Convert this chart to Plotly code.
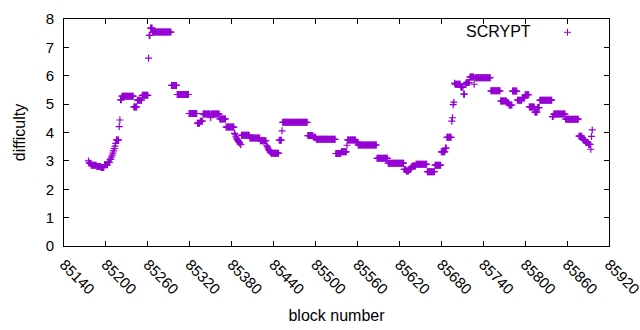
import plotly.graph_objects as go

# Runs of constant difficulty: first block, last block, value
run_first = [85175, 85176, 85179, 85187, 85193, 85198, 85203, 85206, 85208, 85209,
             85210, 85211, 85212, 85213, 85214, 85215, 85219, 85220, 85221, 85223,
             85240, 85245, 85252, 85261, 85262, 85264, 85267, 85294, 85302, 85319,
             85331, 85335, 85339, 85350, 85351, 85363, 85372, 85384, 85385, 85386,
             85387, 85388, 85389, 85390, 85391, 85392, 85393, 85394, 85406, 85421,
             85430, 85431, 85432, 85433, 85434, 85435, 85436, 85437, 85448, 85452,
             85453, 85489, 85497, 85501, 85529, 85537, 85545, 85546, 85558, 85561,
             85588, 85604, 85627, 85630, 85634, 85637, 85639, 85644, 85660, 85671,
             85680, 85686, 85688, 85695, 85696, 85697, 85698, 85699, 85700, 85708,
             85712, 85714, 85716, 85721, 85727, 85728, 85751, 85765, 85774, 85777,
             85782, 85789, 85796, 85800, 85806, 85814, 85818, 85821, 85839, 85841,
             85858, 85877, 85882, 85883, 85884, 85887, 85891, 85894, 85895, 85896]
run_last = [85175, 85178, 85186, 85192, 85197, 85202, 85205, 85207, 85208, 85209,
            85210, 85211, 85212, 85213, 85214, 85218, 85219, 85220, 85222, 85239,
            85244, 85251, 85260, 85261, 85263, 85266, 85293, 85301, 85318, 85330,
            85334, 85338, 85349, 85350, 85362, 85371, 85383, 85384, 85385, 85386,
            85387, 85388, 85389, 85390, 85391, 85392, 85393, 85405, 85420, 85429,
            85430, 85431, 85432, 85433, 85434, 85435, 85436, 85447, 85451, 85452,
            85488, 85496, 85500, 85528, 85536, 85544, 85545, 85557, 85560, 85587,
            85603, 85626, 85629, 85633, 85636, 85638, 85643, 85659, 85670, 85679,
            85685, 85687, 85694, 85695, 85696, 85697, 85698, 85699, 85707, 85711,
            85713, 85715, 85720, 85726, 85727, 85750, 85764, 85773, 85776, 85781,
            85788, 85795, 85799, 85805, 85813, 85817, 85820, 85838, 85840, 85857,
            85876, 85881, 85882, 85883, 85886, 85890, 85893, 85894, 85895, 85896]
run_value = [3.00, 2.92, 2.85, 2.80, 2.77, 2.86, 2.95, 3.05, 3.13, 3.20,
             3.27, 3.35, 3.43, 3.52, 3.62, 3.74, 4.21, 4.44, 5.15, 5.28,
             4.90, 5.14, 5.31, 6.62, 7.42, 7.68, 7.54, 5.66, 5.34, 4.67,
             4.33, 4.40, 4.65, 4.52, 4.65, 4.48, 4.19, 3.97, 3.92, 3.85,
             3.80, 3.75, 3.72, 3.68, 3.64, 3.60, 3.57, 3.90, 3.81, 3.71,
             3.55, 3.50, 3.45, 3.40, 3.36, 3.32, 3.29, 3.27, 3.73, 4.06,
             4.36, 3.89, 3.83, 3.76, 3.26, 3.32, 3.55, 3.74, 3.66, 3.56,
             3.09, 2.92, 2.70, 2.64, 2.70, 2.78, 2.82, 2.88, 2.62, 2.85,
             3.32, 3.45, 3.83, 4.40, 4.52, 4.98, 5.07, 5.74, 5.70, 5.60,
             5.35, 5.70, 5.76, 5.96, 5.70, 5.93, 5.47, 5.11, 5.05, 4.97,
             5.46, 5.14, 5.22, 5.33, 4.90, 4.72, 4.88, 5.14, 4.56, 4.65,
             4.47, 3.87, 3.80, 3.78, 3.72, 3.65, 3.58, 3.41, 3.86, 4.09]

x_ticks = [85140, 85200, 85260, 85320, 85380, 85440, 85500, 85560,
           85620, 85680, 85740, 85800, 85860, 85920]
x_tick_labels = [str(t) for t in x_ticks]
y_ticks = [0, 1, 2, 3, 4, 5, 6, 7, 8]
series_name = "SCRYPT"

blocks, difficulty = [], []
for a, b, v in zip(run_first, run_last, run_value):
    for blk in range(a, b + 1):
        blocks.append(blk)
        difficulty.append(v)

COLOR = "#9400D3"
FONT = "Liberation Sans, Arial, sans-serif"

fig = go.Figure()
fig.add_trace(go.Scatter(
    x=blocks, y=difficulty, mode="markers", name=series_name,
    marker=dict(symbol="cross-thin", size=5, color=COLOR,
                line=dict(color=COLOR, width=1.2)),
    showlegend=False, hoverinfo="x+y"))

axis_common = dict(showgrid=False, zeroline=False, showline=True, linecolor="black",
                   linewidth=1, mirror="allticks", ticks="inside", ticklen=5,
                   tickcolor="black", automargin=False,
                   tickfont=dict(family=FONT, size=15, color="black"))

fig.update_layout(
    width=640, height=330,
    margin=dict(l=64, r=31, t=19, b=84),
    paper_bgcolor="white", plot_bgcolor="white",
    font=dict(family=FONT, size=15, color="black"),
    xaxis=dict(range=[85140, 85920], tickvals=x_ticks, ticktext=x_tick_labels,
               tickangle=45, ticklabelstandoff=3, ticklabeloverflow="allow",
               title=dict(text="block number", font=dict(size=16), standoff=13),
               **axis_common),
    yaxis=dict(range=[0, 8], tickvals=y_ticks, ticklabelstandoff=6,
               title=dict(text="difficulty", font=dict(size=16), standoff=16),
               **axis_common),
    annotations=[dict(xref="paper", yref="paper", x=(533 - 64) / 545, y=(246 - 31.5) / 227,
                      text=series_name, showarrow=False, xanchor="right", yanchor="middle",
                      font=dict(family=FONT, size=16, color="black"))],
    shapes=[
        dict(type="line", xref="paper", yref="paper",
             x0=(564 - 64) / 545, x1=(571 - 64) / 545,
             y0=(246 - 32.3) / 227, y1=(246 - 32.3) / 227,
             line=dict(color=COLOR, width=1)),
        dict(type="line", xref="paper", yref="paper",
             x0=(567.5 - 64) / 545, x1=(567.5 - 64) / 545,
             y0=(246 - 28.8) / 227, y1=(246 - 35.8) / 227,
             line=dict(color=COLOR, width=1)),
    ],
)

fig.write_html("out.html", config={"displayModeBar": False},
               post_script="document.body.style.margin='0';document.body.style.overflow='hidden';")
